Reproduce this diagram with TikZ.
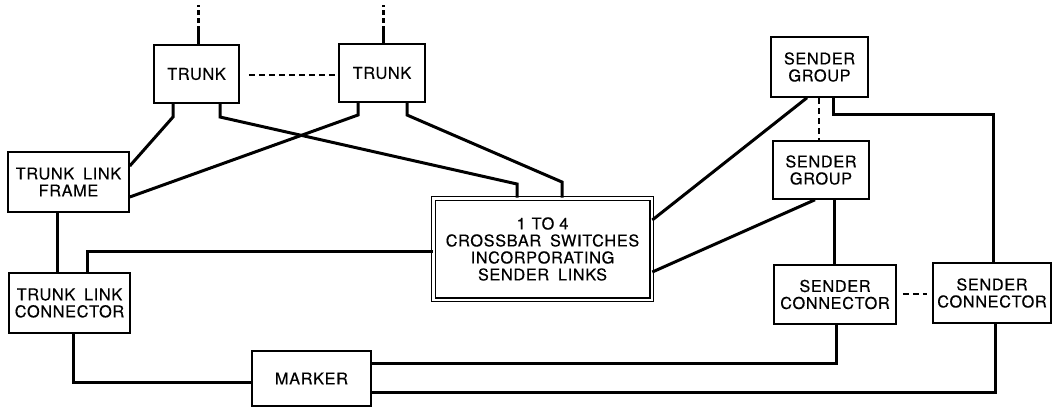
\documentclass[tikz,border=0pt]{standalone}
\usepackage{fontspec}
\setmainfont{TeX Gyre Heros}[LetterSpace=4,WordSpace=1.7,FakeBold=0.4]
\begin{document}
\begin{tikzpicture}[x=1pt,y=-1pt,
  every node/.style={font=\fontsize{16.3}{17}\selectfont},
  blk/.style={draw,line width=1.5pt,inner sep=0pt,align=center},
  cbox/.style={draw,line width=1.2pt,double,double distance=2.4pt,inner sep=0pt,align=center},
  conn/.style={line width=3pt,line join=miter},
  updash/.style={line width=3pt,dash pattern=on 5pt off 3pt},
  thindash/.style={line width=1.4pt,dash pattern=on 6pt off 4pt}]
\useasboundingbox (0,0) rectangle (1053,408);
% boxes
\node[blk,minimum width=85pt,minimum height=58pt] (t1) at (196.5,74) {TRUNK};
\node[blk,minimum width=86pt,minimum height=58pt] (t2) at (382,73) {TRUNK};
\node[blk,minimum width=121pt,minimum height=60pt] (tlf) at (68.5,182) {TRUNK LINK\\FRAME};
\node[blk,minimum width=121pt,minimum height=60pt] (tlc) at (69.5,303) {TRUNK LINK\\CONNECTOR};
\node[blk,minimum width=119pt,minimum height=55pt] (mk) at (311.5,378.5) {\raisebox{-2.5pt}{MARKER}};
\node[cbox,minimum width=218.4pt,minimum height=101.4pt] (cb) at (542.5,249) {1\hspace{6pt}TO\hspace{5pt}4\\CROSSBAR SWITCHES\\INCORPORATING\\SENDER LINKS};
\node[blk,minimum width=97pt,minimum height=60pt] (sg1) at (819.5,67) {SENDER\\GROUP};
\node[blk,minimum width=96pt,minimum height=58pt] (sg2) at (821,170) {SENDER\\GROUP};
\node[blk,minimum width=122pt,minimum height=59pt] (sc1) at (835,294.5) {SENDER\\CONNECTOR};
\node[blk,minimum width=118pt,minimum height=60pt] (sc2) at (992,293) {SENDER\\CONNECTOR};
% free ends
\coordinate (t1up) at (198,5);
\coordinate (t2up) at (383,5);
% trunk incoming lines
\draw[conn] (t1.north -| t1up) -- (t1up |- 0,31);
\draw[updash] (t1up |- 0,31) -- (t1up);
\draw[conn] (t2.north -| t2up) -- (t2up |- 0,31);
\draw[updash] (t2up |- 0,31) -- (t2up);
% dashed links
\draw[thindash] ([xshift=9pt]t1.east |- 0,75) -- (t2.west |- 0,75);
\draw[thindash] (sg1.south -| 819,0) -- (sg2.north -| 819,0);
\draw[thindash] ([xshift=6pt]sc1.east |- 0,294) -- ([xshift=-5pt]sc2.west |- 0,294);
% trunk legs
\draw[conn] (t1.south -| 173,0) -- (173,117) -- (tlf.east |- 0,166);
\draw[conn] (t1.south -| 220,0) -- (220,117) -- (517,184) -- (cb.north -| 517,0);
\draw[conn] (t2.south -| 358,0) -- (358,115) -- (tlf.east |- 0,197);
\draw[conn] (t2.south -| 407,0) -- (407,115) -- (562,182) -- (cb.north -| 562,0);
% trunk link frame / connector
\draw[conn] (tlf.south -| 57,0) -- (tlc.north -| 57,0);
\draw[conn] (tlc.north -| 87,0) -- (87,251) -- (cb.west |- 0,251);
\draw[conn] (tlc.south -| 73,0) -- (73,382) -- (mk.west |- 0,382);
% sender groups
\draw[conn] (sg1.south -| 807,0) -- (cb.east |- 0,220);
\draw[conn] (sg1.south -| 833,0) -- (833,114) -- (993,114) -- (sc2.north -| 993,0);
\draw[conn] (sg2.south -| 815,0) -- (cb.east |- 0,272);
\draw[conn] (sg2.south -| 834,0) -- (sc1.north -| 834,0);
% sender connectors to marker
\draw[conn] (sc1.south -| 836,0) -- (836,363) -- (mk.east |- 0,363);
\draw[conn] (sc2.south -| 995,0) -- (995,392) -- (mk.east |- 0,392);
\end{tikzpicture}
\end{document}
